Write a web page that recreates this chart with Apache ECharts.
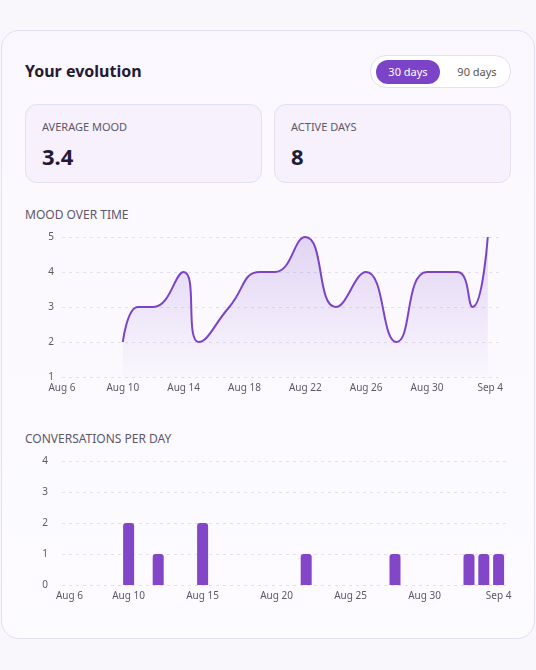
<!DOCTYPE html>
<html><head><meta charset="utf-8">
<script src="https://cdn.jsdelivr.net/npm/echarts@6/dist/echarts.min.js"></script>
<style>
body{margin:0;width:536px;height:670px;background:#f9f6fc;font-family:"Noto Sans",sans-serif;position:relative;overflow:hidden}
.card{position:absolute;left:1px;top:30px;width:532px;height:607px;border:1px solid #e6def2;border-radius:18px;background:linear-gradient(180deg,#fbf7fe,#fcfbff)}
.t{position:absolute;left:25px;top:60px;font-size:16px;font-weight:700;color:#241a35}
.tog{position:absolute;left:370px;top:55px;width:139px;height:31px;border:1px solid #e6def2;border-radius:16px;background:#fff}
.on{position:absolute;left:5px;top:4px;width:64px;height:24px;border-radius:12px;background:#7b44c8;color:#fff;font-size:11px;line-height:24px;text-align:center}
.off{position:absolute;left:76px;top:4px;width:60px;line-height:24px;font-size:11px;color:#555;text-align:center}
.box{position:absolute;top:104px;width:235px;height:77px;border:1px solid #e6def2;border-radius:12px;background:#f6f1fc}
.box .l{position:absolute;left:16px;top:14px;font-size:11px;color:#5d5868}
.box .v{position:absolute;left:16px;top:36px;font-size:22px;font-weight:700;color:#241a35}
.h{position:absolute;left:25px;font-size:12px;color:#5d5868}
#c1{position:absolute;left:1px;top:225px;width:534px;height:175px}
#c2{position:absolute;left:1px;top:450px;width:534px;height:160px}
</style></head><body>
<div class="card"></div>
<div class="t">Your evolution</div>
<div class="tog"><div class="on">30 days</div><div class="off">90 days</div></div>
<div class="box" style="left:25px"><div class="l">AVERAGE MOOD</div><div class="v">3.4</div></div>
<div class="box" style="left:274px"><div class="l">ACTIVE DAYS</div><div class="v">8</div></div>
<div class="h" style="top:206px">MOOD OVER TIME</div>
<div class="h" style="top:430px">CONVERSATIONS PER DAY</div>
<div id="c1"></div><div id="c2"></div>
<script>
const days=[];for(let i=0;i<30;i++){const d=new Date(2024,7,6+i);days.push((d.getMonth()===7?'Aug ':'Sep ')+d.getDate());}
const moodDays=['Aug 10','Aug 11','Aug 12','Aug 14','Aug 15','Aug 17','Aug 19','Aug 20','Aug 22','Aug 24','Aug 26','Aug 28','Aug 30','Sep 1','Sep 2','Sep 3'];
const moodVals=[2,3,3,4,2,3,4,4,5,3,4,2,4,4,3,5];
const convDays=['Aug 10','Aug 12','Aug 15','Aug 22','Aug 28','Sep 2','Sep 3','Sep 4'];
const convVals=[2,1,2,1,1,1,1,1];
const moodLabelIdx=[0,4,8,12,16,20,24,29];
const convLabelIdx=[0,4,9,14,19,24,29];
const mood=days.map(d=>{const i=moodDays.indexOf(d);return i<0?null:moodVals[i];});
const conv=days.map(d=>{const i=convDays.indexOf(d);return i<0?0:convVals[i];});
const lab={color:'#5d5868',fontSize:10,fontFamily:'Noto Sans'};
const split={show:true,lineStyle:{color:'#e4dfec',type:[3,4]}};
const c1=echarts.init(document.getElementById('c1'));
c1.setOption({animation:false,grid:{left:61,right:32,top:12,height:140},
xAxis:{type:'category',data:days,boundaryGap:false,axisLine:{show:false},axisTick:{show:false},
 axisLabel:Object.assign({},lab,{interval:(i)=>moodLabelIdx.includes(i),margin:6,
 formatter:(v,i)=>v,alignMaxLabel:'right'})},
yAxis:{type:'value',min:1,max:5,interval:1,axisLabel:Object.assign({},lab,{margin:8}),splitLine:split},
series:[{type:'line',data:mood,connectNulls:true,smooth:0.5,symbol:'none',lineStyle:{color:'#7b44c8',width:2},
 areaStyle:{color:new echarts.graphic.LinearGradient(0,0,0,1,[{offset:0,color:'rgba(123,68,200,0.28)'},{offset:1,color:'rgba(123,68,200,0.02)'}])}}]});
const c2=echarts.init(document.getElementById('c2'));
c2.setOption({animation:false,grid:{left:61,right:29,top:11,height:124},
xAxis:{type:'category',data:days,axisLine:{show:false},axisTick:{show:false},
 axisLabel:Object.assign({},lab,{interval:(i)=>convLabelIdx.includes(i),margin:6})},
yAxis:{type:'value',min:0,max:4,interval:1,axisLabel:Object.assign({},lab,{margin:14}),splitLine:split},
series:[{type:'bar',data:conv,barWidth:11,itemStyle:{color:'#8446c9',borderRadius:[3,3,0,0]}}]});
</script></body></html>
